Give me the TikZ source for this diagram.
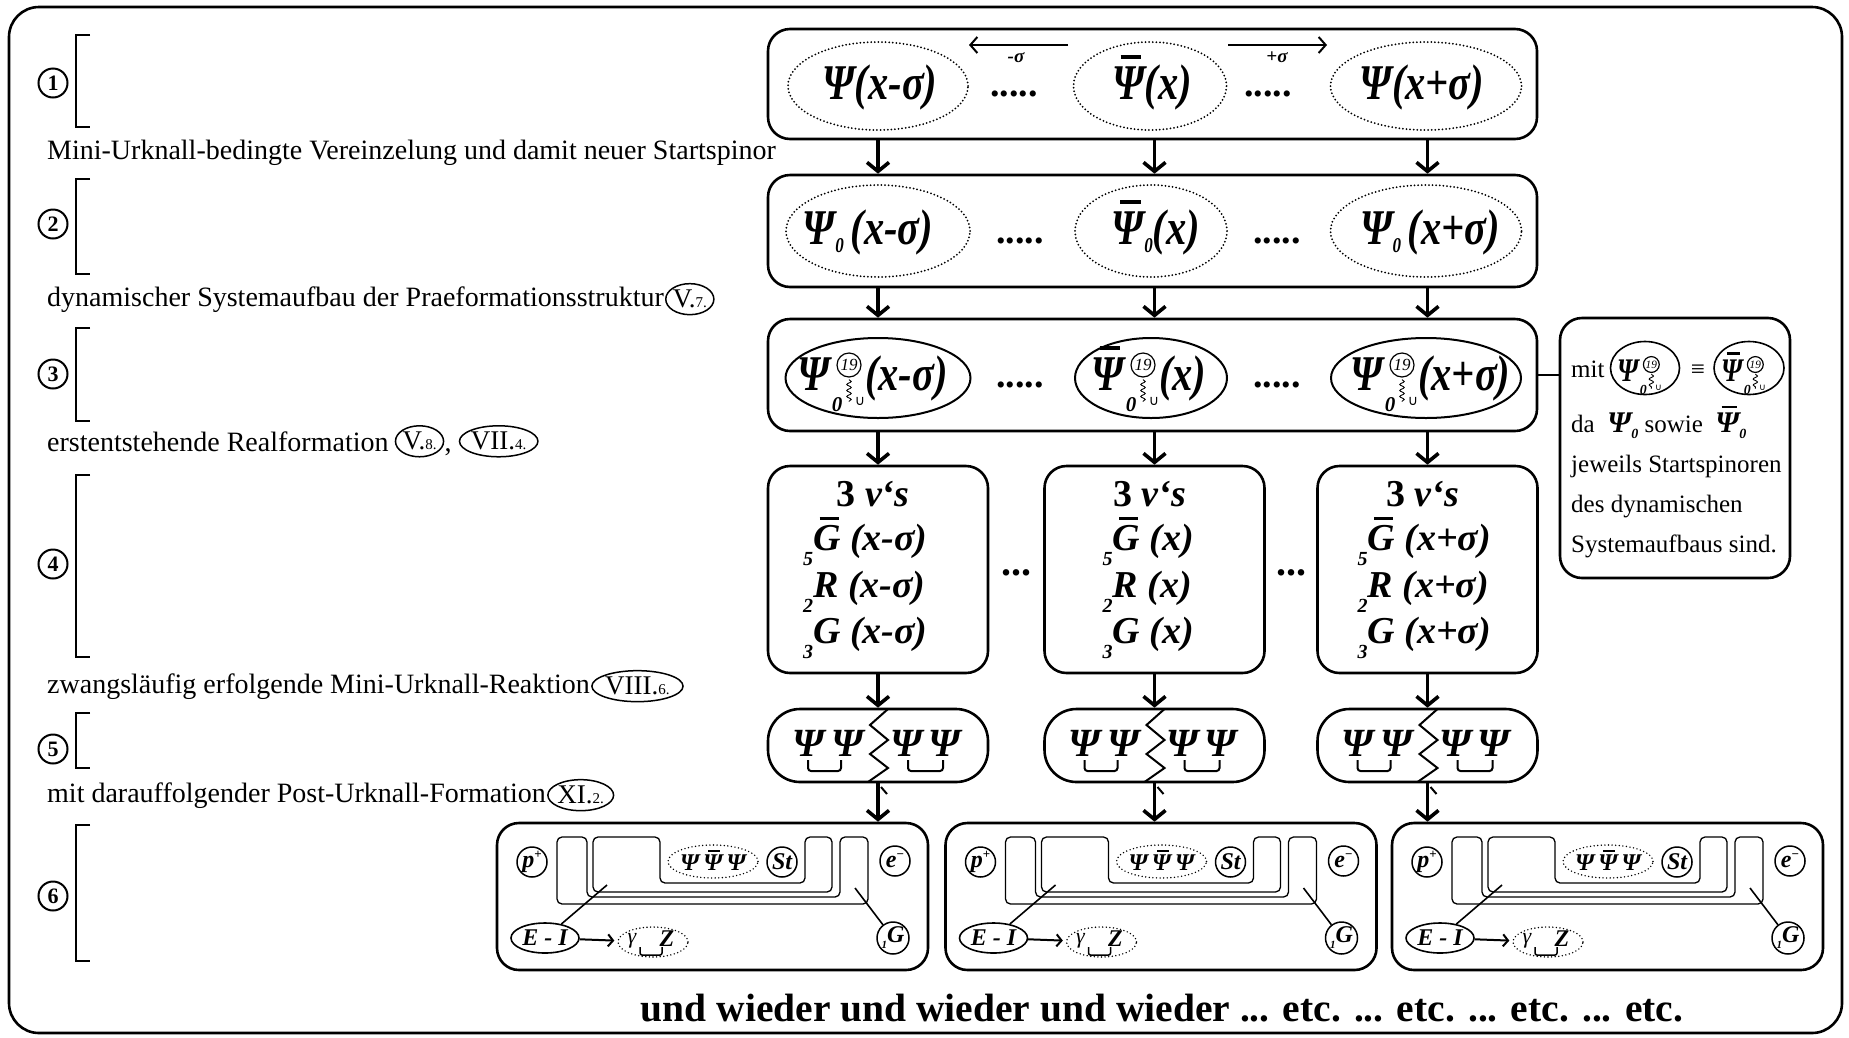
\documentclass[tikz,border=0pt]{standalone}
\usepackage{fontspec}
\usepackage{graphicx}
\setmainfont{Liberation Serif}
\newfontfamily\djv{DejaVu Sans}
\usetikzlibrary{arrows.meta,shapes.geometric,decorations.pathmorphing,calc}
\newcommand\fsz[1]{\fontsize{#1}{#1}\selectfont}
\newcommand\bif{\bfseries\itshape}
\newcommand\cond[1]{\scalebox{0.81}[1]{#1}}
\newcommand\barit[1]{\ooalign{#1\cr\hfil\kern0.12em\rule[0.8em]{0.5em}{0.075em}\hfil\cr}}
% Psi with subscript 0, circled 19 and wavy line
\newcommand\psistk[2]{%
  \node[anchor=base west, inner sep=0pt, font=\fsz{50}\bif] (#1p) at (0,0) {\cond{#2}};
  \node[anchor=base, inner sep=0pt, font=\fsz{21}\bif] (#1z) at (40,21) {0};
  \node[circle, draw, line width=1.2pt, inner sep=0pt, minimum size=24pt, font=\fsz{17}\itshape] (#1n) at (52,-25) {19};
  \draw[line width=0.9pt, decorate, decoration={snake, amplitude=2.2pt, segment length=6pt}] ([yshift=-2pt]#1n.south) -- ++(0,22);
  \node[inner sep=0pt, font=\fsz{14}\djv] (#1u) at (63,11) {∪};
}
% inner drawing of a row-6 box (origin = top left corner of box)
\newcommand\sixin[1]{%
  \node[circnode] (#1pp) at (35,39) {p\raisebox{9pt}{\fsz{13}\upshape +}};
  \node[circnode] (#1ee) at (398,38) {e\raisebox{9pt}{\fsz{13}\upshape −}};
  \draw[line width=1.3pt, rounded corners=5pt] (60,14) -- (90,14) -- (90,74) -- (343,74) -- (343,14) -- (371,14) -- (371,81) -- (60,81) -- cycle;
  \draw[line width=1.3pt, rounded corners=5pt] (96,14) -- (163,14) -- (163,60) -- (308,60) -- (308,14) -- (335,14) -- (335,69) -- (96,69) -- cycle;
  \node[dotell, line width=1.6pt, minimum width=90pt, minimum height=33pt] (#1pe) at (216,38.5) {};
  \node[font=\fsz{24}\bif, inner sep=0pt] (#1pt) at (216,40) {Ψ\,\barit{Ψ}\,Ψ};
  \node[circnode] (#1st) at (285,39) {St};
  \node[ellipse, draw, line width=1.6pt, minimum width=68pt, minimum height=30pt, inner sep=0pt, font=\fsz{24}\bif] (#1ei) at (48,115) {E - I};
  \node[dotell, line width=1.6pt, minimum width=70pt, minimum height=30pt] (#1gz) at (156,119) {};
  \node[font=\fsz{22}\itshape, inner sep=0pt] (#1ga) at (135,118) {γ};
  \node[font=\fsz{24}\bif, inner sep=0pt] (#1zz) at (170,116) {Z};
  \draw[line width=1.5pt, rounded corners=2pt] (143,124) -- (143,132) -- (165,132) -- (165,124);
  \draw[line width=2pt, shorten >=3pt, -{Straight Barb[length=5pt,width=12pt]}] (#1ei) -- (#1gz);
  \node[circnode, minimum size=32pt] (#1g) at (396,115) {\raisebox{-6pt}{\fsz{11}1}G};
  \coordinate (#1l1) at (110,62);
  \coordinate (#1l2) at (358,65);
  \draw[line width=1.6pt] (#1l1) -- (#1ei);
  \draw[line width=1.6pt] (#1l2) -- (#1g);
}
\begin{document}
\begin{tikzpicture}[x=1pt,y=-1pt,
  rbox/.style={draw, line width=2.6pt, rounded corners=22pt, inner sep=0pt},
  dotell/.style={draw, ellipse, line width=2pt, dash pattern=on 0pt off 3.6pt, line cap=round, inner sep=0pt},
  solell/.style={draw, ellipse, line width=2pt, inner sep=0pt},
  flow/.style={line width=3.6pt, -{Straight Barb[length=9pt,width=22pt]}},
  thinarrow/.style={line width=2pt, -{Straight Barb[length=7pt,width=16pt]}},
  f1/.style={font=\fsz{50}\bif, inner sep=0pt},
  f4/.style={font=\fsz{38}\bif, inner sep=0pt},
  captxt/.style={font=\fsz{28}, inner sep=0pt, anchor=base west},
  numnode/.style={circle, draw, line width=2pt, minimum size=29pt, inner sep=0pt, font=\fsz{22}\bfseries},
  brk/.style={line width=2.6pt},
  refel/.style={ellipse, draw, line width=1.5pt, inner sep=0pt, minimum height=31pt, font=\fsz{27}},
  circnode/.style={circle, draw, line width=1.5pt, minimum size=30pt, inner sep=0pt, font=\fsz{24}\bif},
  dotstxt/.style={font=\fsz{38}\bfseries, anchor=base, inner sep=0pt, text height=6pt, text depth=0pt},
  sidetxt/.style={font=\fsz{25}, inner sep=0pt, anchor=base west}
]
\useasboundingbox (0,0) rectangle (1849,1037);
\draw[line width=2.6pt, rounded corners=30pt] (9,7) rectangle (1842,1033);

% left column
\foreach \n/\y in {1/83,2/224,3/374,4/564,5/749,6/896}
  \node[numnode] (n\n) at (53,\y) {\n};
\foreach \a/\b in {35/127,179/274,328/421,475/657,713/768,825/961}
  \draw[brk] (90,\a) -- (76,\a) -- (76,\b) -- (90,\b);

\node[captxt] (c1) at (47,159) {Mini-Urknall-bedingte Vereinzelung und damit neuer Startspinor};
\node[captxt] (c2) at (47,306) {dynamischer Systemaufbau der Praeformationsstruktur};
\node[refel, anchor=west] (v7) at ([xshift=1pt]c2.east) {V.{\fsz{15}7.}};
\node[captxt] (c3) at (47,451) {erstentstehende Realformation};
\node[refel, anchor=west] (v8) at ([xshift=6pt]c3.east) {V.{\fsz{15}8.}};
\node[captxt] (cm) at (v8.east |- c3.base) {,};
\node[refel, anchor=west] (vii4) at ([xshift=7pt]cm.east |- v8) {VII.{\fsz{15}4.}};
\node[captxt] (c4) at (47,693) {zwangsläufig erfolgende Mini-Urknall-Reaktion};
\node[refel, anchor=west] (viii6) at ([xshift=1pt]c4.east) {VIII.{\fsz{15}6.}};
\node[captxt] (c5) at (47,802) {mit darauffolgender Post-Urknall-Formation};
\node[refel, anchor=west] (xi2) at ([xshift=1pt]c5.east) {XI.{\fsz{15}2.}};

% row 1
\node[rbox, minimum width=769pt, minimum height=110pt] (r1) at (1152.5,84) {};
\node[dotell, minimum width=180pt, minimum height=88pt] (e11) at (878,86) {};
\node[dotell, minimum width=153pt, minimum height=88pt] (e12) at (1150,86) {};
\node[dotell, minimum width=191pt, minimum height=88pt] (e13) at (1426,86) {};
\node[f1, anchor=base] (t11) at (880,99) {\cond{Ψ(x-σ)}};
\node[f1, anchor=base] (t12) at (1152,99) {\cond{\barit{Ψ}(x)}};
\node[f1, anchor=base] (t13) at (1422,99) {\cond{Ψ(x+σ)}};
\node[dotstxt] (d11) at (1014,96) {.....};
\node[dotstxt] (d12) at (1268,96) {.....};
\coordinate (am0) at (1068,45); \coordinate (am1) at (969,45);
\coordinate (ap0) at (1228,45); \coordinate (ap1) at (1327,45);
\draw[thinarrow] (am0) -- (am1);
\draw[thinarrow] (ap0) -- (ap1);
\node[font=\fsz{19}\bif, inner sep=0pt] (lm) at (1016,58) {-σ};
\node[font=\fsz{19}\bif, inner sep=0pt] (lp) at (1277,57) {+σ};

% row 2
\node[rbox, minimum width=769pt, minimum height=112pt] (r2) at (1152.5,231) {};
\node[dotell, minimum width=184pt, minimum height=92pt] (e21) at (878,231) {};
\node[dotell, minimum width=152pt, minimum height=92pt] (e22) at (1151,231) {};
\node[dotell, minimum width=191pt, minimum height=92pt] (e23) at (1426,231) {};
\node[f1, anchor=base] (t21) at (868,244) {\cond{Ψ\raisebox{-8pt}{\fsz{21}0}\,(x-σ)}};
\node[f1, anchor=base] (t22) at (1156,244) {\cond{\barit{Ψ}\raisebox{-8pt}{\fsz{21}0}(x)}};
\node[f1, anchor=base] (t23) at (1430,244) {\cond{Ψ\raisebox{-8pt}{\fsz{21}0}\,(x+σ)}};
\node[dotstxt] (d21) at (1020,243) {.....};
\node[dotstxt] (d22) at (1277,243) {.....};

% row 3
\node[rbox, minimum width=769pt, minimum height=112pt] (r3) at (1152.5,375) {};
\node[solell, minimum width=185pt, minimum height=80pt] (e31) at (878,378) {};
\node[solell, minimum width=152pt, minimum height=80pt] (e32) at (1151,378) {};
\node[solell, minimum width=190pt, minimum height=80pt] (e33) at (1426,378) {};
\begin{scope}[shift={(797,390)}] \psistk{sa}{Ψ} \end{scope}
\node[f1, anchor=base west] (t31) at (865,390) {\cond{(x-σ)}};
\begin{scope}[shift={(1091,390)}] \psistk{sb}{\barit{Ψ}} \end{scope}
\node[f1, anchor=base west] (t32) at (1159,390) {\cond{(x)}};
\begin{scope}[shift={(1350,390)}] \psistk{sc}{Ψ} \end{scope}
\node[f1, anchor=base west] (t33) at (1418,390) {\cond{(x+σ)}};
\node[dotstxt] (d31) at (1020,387) {.....};
\node[dotstxt] (d32) at (1277,387) {.....};

% side box
\node[rbox, minimum width=230pt, minimum height=260pt] (sbox) at (1675,448) {};
\draw[line width=2.6pt] (r3.east) -- (r3.east -| sbox.west);
\node[sidetxt] (m1) at (1571,377) {mit};
\node[solell, line width=1.6pt, minimum width=69pt, minimum height=53pt] (se1) at (1645,368) {};
\begin{scope}[shift={(1617,381)}, scale=0.66, transform shape] \psistk{qa}{Ψ} \end{scope}
\node[sidetxt, anchor=base] (eqv) at (1698,377) {≡};
\node[solell, line width=1.6pt, minimum width=70pt, minimum height=53pt] (se2) at (1749,368) {};
\begin{scope}[shift={(1721,381)}, scale=0.66, transform shape] \psistk{qb}{\barit{Ψ}} \end{scope}
\node[sidetxt] (m2) at (1571,432) {da \ {\fsz{30}\bif Ψ\raisebox{-6pt}{\fsz{14}0}} sowie \ {\fsz{30}\bif\barit{Ψ}\raisebox{-6pt}{\fsz{14}0}}};
\node[sidetxt] (m3) at (1571,472) {jeweils Startspinoren};
\node[sidetxt] (m4) at (1571,512) {des dynamischen};
\node[sidetxt] (m5) at (1571,552) {Systemaufbaus sind.};

% row 4
\foreach \n/\cx/\ar/\lx in {a/878/{(x-σ)}/75, b/1154.5/{(x)}/52, c/1427.5/{(x+σ)}/70} {
  \node[rbox, minimum width=220pt, minimum height=207pt] (r4\n) at (\cx,569.5) {};
  \node[f4, font=\fsz{38}\bfseries, anchor=base] (h\n) at (\cx-5,506) {3 {\itshape v‘s}};
  \node[f4, anchor=base west] (g\n) at (\cx-\lx,550) {\raisebox{-15pt}{\fsz{20}5}\barit{G}\ \ar};
  \node[f4, anchor=base west] (rr\n) at (\cx-\lx,597) {\raisebox{-15pt}{\fsz{20}2}R\ \ar};
  \node[f4, anchor=base west] (gg\n) at (\cx-\lx,643) {\raisebox{-15pt}{\fsz{20}3}G\ \ar};
}
\node[dotstxt, font=\fsz{40}\bfseries] (dd1) at (1016,575) {...};
\node[dotstxt, font=\fsz{40}\bfseries] (dd2) at (1291,575) {...};

% row 5
\foreach \n/\cx in {a/878,b/1154.5,c/1427.5} {
  \node[rbox, rounded corners=32pt, minimum width=220pt, minimum height=73pt] (r5\n) at (\cx,745.5) {};
  \node[font=\fsz{40}\bif, anchor=base, inner sep=0pt] (pa\n) at (\cx-70,756) {Ψ};
  \node[font=\fsz{40}\bif, anchor=base, inner sep=0pt] (pb\n) at (\cx-31,756) {Ψ};
  \node[font=\fsz{40}\bif, anchor=base, inner sep=0pt] (pc\n) at (\cx+28,756) {Ψ};
  \node[font=\fsz{40}\bif, anchor=base, inner sep=0pt] (pd\n) at (\cx+66,756) {Ψ};
  \draw[line width=2pt, rounded corners=3pt] (\cx-70,760) -- (\cx-70,771) -- (\cx-37,771) -- (\cx-37,760);
  \draw[line width=2pt, rounded corners=3pt] (\cx+30,760) -- (\cx+30,771) -- (\cx+65,771) -- (\cx+65,760);
  \draw[line width=2pt] (\cx+10,709) -- (\cx-8,725) -- (\cx+10,740) -- (\cx-8,754) -- (\cx+10,768) -- (\cx-10,782);
  \draw[line width=2pt] (\cx+3,787) -- (\cx+9,794);
}

% row 6
\foreach \n/\cx in {a/712.5,b/1161,c/1607.5} {
  \node[rbox, minimum width=431pt, minimum height=147pt] (r6\n) at (\cx,896.5) {};
  \begin{scope}[shift={(\cx-215.5,823)}] \sixin{\n} \end{scope}
}

% column connectors
\foreach \n in {a,b,c} {
  \draw[flow] (r1.south -| r4\n.north) -- (r2.north -| r4\n.north);
  \draw[flow] (r2.south -| r4\n.north) -- (r3.north -| r4\n.north);
  \draw[flow] (r3.south -| r4\n.north) -- (r4\n.north);
  \draw[flow] (r4\n.south) -- (r5\n.north);
  \draw[flow] (r5\n.south) -- (r5\n.south |- r6\n.north);
}

\node[font=\fsz{39.5}\bfseries, anchor=base, inner sep=0pt] (fin) at (1162,1021) {und wieder und wieder und wieder ... etc. ... etc. ... etc. ... etc.};
\end{tikzpicture}
\end{document}
